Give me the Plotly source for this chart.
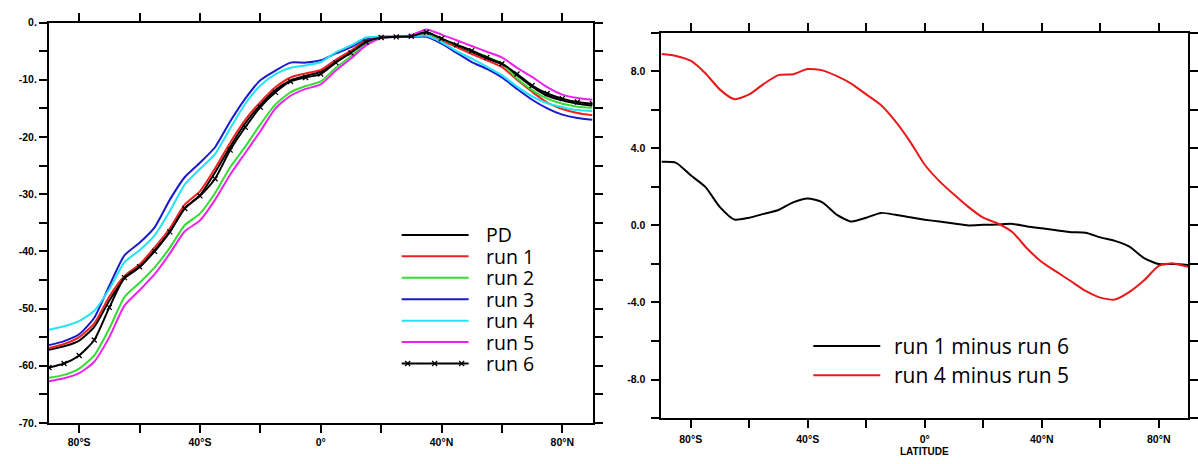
import plotly.graph_objects as go

# ---------------- data ----------------
lat = list(range(-90, 91, 5))

pd_ctrl = [-57.2, -56.6, -55.6, -53.2, -48.6, -44.7, -42.8, -39.8, -36.6, -32.4,
           -30.2, -26.2, -21.7, -17.6, -14.4, -11.8, -10.1, -9.3, -8.6, -6.8,
           -5.1, -3.2, -2.6, -2.5, -2.4, -1.7, -2.9, -4.1, -5.1, -6.3,
           -7.3, -9.2, -11.2, -12.8, -13.6, -14.2, -14.5]
run1 = [-56.9, -56.2, -55.0, -52.6, -47.9, -44.3, -42.3, -39.3, -36.0, -31.8,
        -29.5, -25.5, -21.0, -17.0, -13.9, -11.3, -9.6, -8.9, -8.3, -6.5,
        -4.9, -3.1, -2.5, -2.5, -2.4, -1.9, -3.1, -4.3, -5.5, -6.6,
        -7.8, -10.0, -12.1, -14.0, -15.1, -15.8, -16.2]
run2 = [-62.1, -61.6, -60.5, -58.2, -53.5, -48.0, -45.5, -42.8, -39.4, -35.4,
        -33.4, -29.8, -25.3, -21.7, -17.8, -14.3, -12.2, -11.1, -10.3, -7.9,
        -5.9, -3.7, -2.6, -2.5, -2.4, -1.8, -2.9, -3.9, -4.9, -6.0,
        -7.1, -9.8, -11.8, -13.3, -14.2, -14.7, -14.9]
run3 = [-56.4, -55.7, -54.5, -51.6, -46.0, -40.7, -38.5, -35.8, -31.0, -27.0,
        -24.5, -21.8, -17.3, -13.3, -10.1, -8.4, -7.0, -7.0, -6.6, -5.4,
        -4.3, -2.8, -2.5, -2.5, -2.5, -2.5, -3.7, -5.3, -6.9, -8.1,
        -9.6, -11.6, -13.5, -15.0, -16.1, -16.7, -17.0]
run4 = [-53.7, -53.1, -52.2, -50.4, -46.6, -41.9, -39.8, -37.2, -33.0, -28.3,
        -25.6, -23.0, -18.5, -14.2, -11.0, -9.0, -7.9, -7.5, -6.9, -5.2,
        -4.0, -2.6, -2.5, -2.5, -2.4, -2.3, -3.4, -5.0, -6.3, -7.7,
        -9.2, -11.2, -12.9, -14.1, -14.8, -15.3, -15.5]
run5 = [-62.7, -62.2, -61.3, -59.3, -55.0, -49.5, -46.8, -44.0, -40.4, -36.5,
        -34.6, -31.0, -26.6, -22.8, -19.0, -15.0, -12.8, -11.6, -10.8, -8.4,
        -6.3, -4.0, -2.7, -2.5, -2.2, -1.2, -2.1, -3.1, -4.1, -5.1,
        -6.1, -7.9, -9.5, -11.3, -12.6, -13.2, -13.5]
run6 = [-60.3, -59.6, -58.2, -55.5, -49.8, -44.6, -42.7, -40.0, -36.6, -32.5,
        -30.3, -27.3, -22.3, -18.3, -14.8, -12.2, -10.3, -9.6, -9.0, -7.0,
        -5.3, -3.4, -2.6, -2.5, -2.4, -1.7, -2.8, -3.9, -4.9, -6.1,
        -7.2, -9.0, -11.0, -12.4, -13.3, -13.9, -14.2]

diff_1_6 = [3.3, 3.25, 2.6, 2.0, 0.95, 0.3, 0.4, 0.6, 0.8, 1.2,
            1.4, 1.2, 0.55, 0.2, 0.4, 0.65, 0.55, 0.42, 0.3, 0.2,
            0.1, 0.0, 0.03, 0.05, 0.08, -0.05, -0.15, -0.25, -0.35, -0.38,
            -0.62, -0.8, -1.1, -1.7, -2.0, -2.0, -2.05]
diff_4_5 = [8.9, 8.8, 8.55, 7.9, 7.05, 6.55, 6.8, 7.35, 7.8, 7.85,
            8.12, 8.05, 7.75, 7.35, 6.8, 6.25, 5.4, 4.35, 3.15, 2.3,
            1.6, 0.95, 0.4, 0.1, -0.35, -1.2, -1.9, -2.4, -2.9, -3.4,
            -3.75, -3.85, -3.45, -2.85, -2.1, -1.97, -2.15]

x_tickvals = [-80, -60, -40, -20, 0, 20, 40, 60, 80]
x_ticktext = ["80°S", "", "40°S", "", "0°", "", "40°N", "", "80°N"]
left_y_tickvals = list(range(-70, 1, 5))
left_y_ticktext = [f"{v}." if v % 10 == 0 else "" for v in left_y_tickvals]
right_y_tickvals = list(range(-10, 11, 2))
right_y_ticktext = [f"{v:.1f}" if v % 4 == 0 and abs(v) < 10 else "" for v in right_y_tickvals]

left_names = ["PD", "run 1", "run 2", "run 3", "run 4", "run 5", "run 6"]
left_colors = ["#000000", "#ee2222", "#33dd33", "#1a1acc", "#22e4f4", "#ee22ee", "#000000"]
right_names = ["run 1 minus run 6", "run 4 minus run 5"]
right_colors = ["#000000", "#e8191b"]

# ---------------- figure ----------------
W, H = 1198, 464
def fx(x):
    return x / W
def fy(y):
    return 1 - y / H

fig = go.Figure()
left_series = [pd_ctrl, run1, run2, run3, run4, run5, run6]
for name, vals, col in zip(left_names, left_series, left_colors):
    if name == "run 6":
        fig.add_trace(go.Scatter(x=lat, y=vals, mode="lines+markers", name=name,
                                 line=dict(color=col, width=2, shape="spline", smoothing=0.6),
                                 marker=dict(symbol="x-thin", size=5, line=dict(width=1.3, color=col)),
                                 xaxis="x", yaxis="y", showlegend=False))
    else:
        fig.add_trace(go.Scatter(x=lat, y=vals, mode="lines", name=name,
                                 line=dict(color=col, width=2, shape="spline", smoothing=0.6),
                                 xaxis="x", yaxis="y", showlegend=False))

for name, vals, col in zip(right_names, [diff_1_6, diff_4_5], right_colors):
    fig.add_trace(go.Scatter(x=lat, y=vals, mode="lines", name=name,
                             line=dict(color=col, width=2, shape="spline", smoothing=0.6),
                             xaxis="x2", yaxis="y2", showlegend=False))

tickfont = dict(family="Liberation Sans", size=10.5, color="black", weight="bold")
axis_common = dict(showline=True, linewidth=2, linecolor="black", mirror="ticks",
                   ticks="outside", ticklen=8, tickwidth=2, tickcolor="black",
                   showgrid=False, zeroline=False, tickfont=tickfont, fixedrange=True)

fig.update_layout(
    width=W, height=H,
    margin=dict(l=0, r=0, t=0, b=0),
    paper_bgcolor="white", plot_bgcolor="white",
    showlegend=False,
    xaxis=dict(domain=[fx(49), fx(593)], anchor="y", range=[-90, 90],
               tickvals=x_tickvals, ticktext=x_ticktext, **axis_common),
    yaxis=dict(domain=[fy(428), fy(17)], anchor="x", range=[-70, 0],
               tickvals=left_y_tickvals, ticktext=left_y_ticktext, **axis_common),
    xaxis2=dict(domain=[fx(662), fx(1189)], anchor="y2", range=[-90, 90],
                tickvals=x_tickvals, ticktext=x_ticktext, ticklabelstandoff=2, **axis_common),
    yaxis2=dict(domain=[fy(423), fy(27.5)], anchor="x2", range=[-10, 10],
                tickvals=right_y_tickvals, ticktext=right_y_ticktext, ticklabelstandoff=4, **axis_common),
)

shapes = []
annotations = []
legfont_left = dict(family="Open Sans", size=19.5, color="black")
legfont_right = dict(family="Open Sans", size=21, color="black")

# left legend
for i, (name, col) in enumerate(zip(left_names, left_colors)):
    y = 235 + 22 * i
    shapes.append(dict(type="line", xref="paper", yref="paper",
                       x0=fx(402), x1=fx(469), y0=fy(y), y1=fy(y),
                       line=dict(color=col, width=2)))
    if name == "run 6":
        for mx in (408, 435, 462):
            for d in (1, -1):
                shapes.append(dict(type="line", xref="paper", yref="paper",
                                   x0=fx(mx - 2.5), x1=fx(mx + 2.5),
                                   y0=fy(y - 2.5 * d), y1=fy(y + 2.5 * d),
                                   line=dict(color=col, width=1.3)))
    annotations.append(dict(text=name, xref="paper", yref="paper", x=fx(484), y=fy(y),
                            xanchor="left", yanchor="middle", showarrow=False, font=legfont_left))

# right legend
for i, (name, col) in enumerate(zip(right_names, right_colors)):
    y = 349 + 30 * i
    shapes.append(dict(type="line", xref="paper", yref="paper",
                       x0=fx(814), x1=fx(881), y0=fy(y), y1=fy(y),
                       line=dict(color=col, width=2)))
    annotations.append(dict(text=name, xref="paper", yref="paper", x=fx(893), y=fy(y),
                            xanchor="left", yanchor="middle", showarrow=False, font=legfont_right))

annotations.append(dict(text="LATITUDE", xref="paper", yref="paper", x=fx(925), y=fy(465),
                        xanchor="center", yanchor="bottom", showarrow=False,
                        font=dict(family="Liberation Sans", size=10, color="black", weight="bold")))

fig.update_layout(shapes=shapes, annotations=annotations)
fig.write_html("out.html")
